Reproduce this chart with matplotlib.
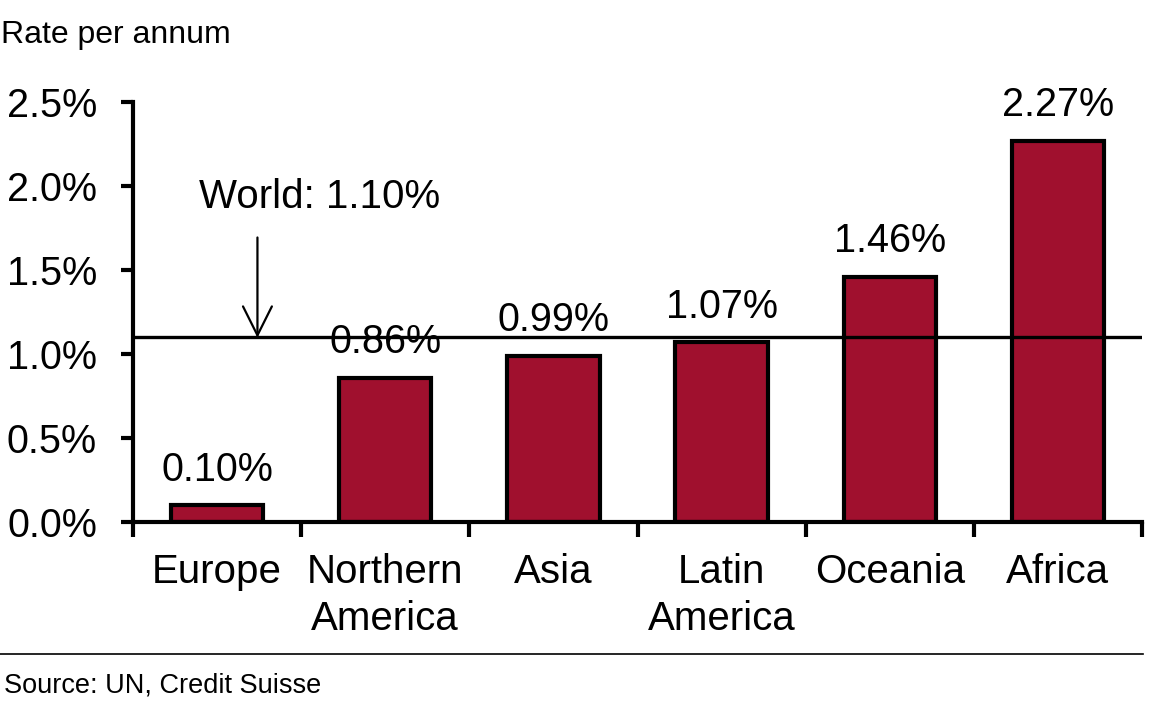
import matplotlib
matplotlib.use("Agg")
import matplotlib.pyplot as plt
import numpy as np

categories = ["Europe", "Northern\nAmerica", "Asia", "Latin\nAmerica", "Oceania", "Africa"]
values = [0.10, 0.86, 0.99, 1.07, 1.46, 2.27]
value_labels = ["0.10%", "0.86%", "0.99%", "1.07%", "1.46%", "2.27%"]
world_rate = 1.10
yticks = [0.0, 0.5, 1.0, 1.5, 2.0, 2.5]
ytick_labels = ["0.0%", "0.5%", "1.0%", "1.5%", "2.0%", "2.5%"]

plt.rcParams['font.family'] = ['Liberation Sans', 'DejaVu Sans']

fig = plt.figure(figsize=(11.56, 7.06), dpi=100)
ax = fig.add_axes([133/1156, 1-522/706, (1142-133)/1156, (522-102)/706])

x = np.arange(len(categories))
ax.bar(x, values, width=0.55, color="#A0102E", edgecolor="black", linewidth=3, zorder=2)

ax.set_xlim(-0.5, len(categories)-0.5)
ax.set_ylim(0, 2.5)

ax.axhline(world_rate, color="black", linewidth=2.4, zorder=3)
ax.annotate("", xy=(0.24, world_rate-0.02), xytext=(0.24, 1.71),
            arrowprops=dict(arrowstyle="->", color="black", lw=1.6, mutation_scale=52), zorder=4)
ax.text(0.61, 1.935, "World: 1.10%", ha="center", va="center", fontsize=29)

for xi, v, lab in zip(x, values, value_labels):
    ax.annotate(lab, xy=(xi, v), xytext=(0, 12), textcoords="offset points",
                ha="center", va="bottom", fontsize=28.5, zorder=1)

for s in ["top", "right"]:
    ax.spines[s].set_visible(False)
ax.spines["left"].set_linewidth(3)
ax.spines["bottom"].set_linewidth(3)

ax.set_yticks(yticks)
ax.set_yticklabels(ytick_labels, fontsize=28.5)
ax.tick_params(axis="y", direction="out", length=9, width=3, pad=17)

ax.set_xticks(x)
ax.set_xticklabels(categories, fontsize=29, linespacing=1.33)
ax.tick_params(axis="x", which="major", length=0, pad=22)
ax.set_xticks(np.arange(-0.5, len(categories), 1.0), minor=True)
ax.tick_params(axis="x", which="minor", direction="out", length=11, width=3)

fig.text(1/1156, 1-35/706, "Rate per annum", fontsize=23, ha="left", va="center")
fig.add_artist(plt.Line2D([0, 1143/1156], [1-654/706, 1-654/706], color="black", linewidth=1.2, transform=fig.transFigure))
fig.text(4/1156, 1-686/706, "Source: UN, Credit Suisse", fontsize=19.5, ha="left", va="center")

fig.savefig("out.png", dpi=100)
